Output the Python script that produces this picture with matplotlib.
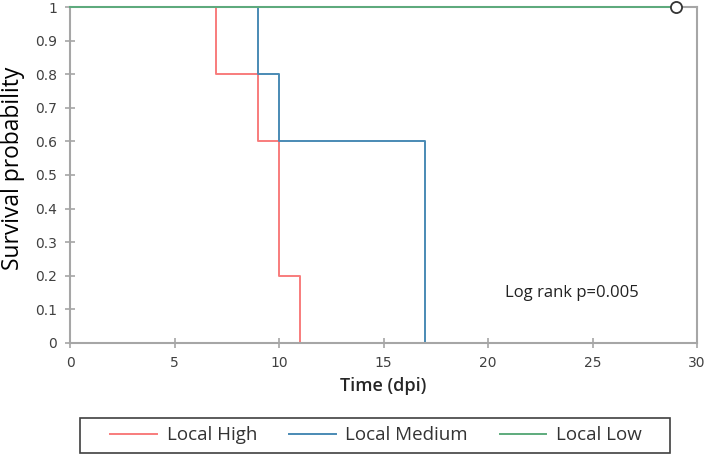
import numpy as np
import matplotlib.pyplot as plt
from matplotlib.patches import Rectangle

# Kaplan-Meier step data
high_t = [0, 7, 9, 10, 11]
high_s = [1.0, 0.8, 0.6, 0.2, 0.0]
med_t = [0, 9, 10, 17]
med_s = [1.0, 0.8, 0.6, 0.0]
low_t = [0, 29]
low_s = [1.0, 1.0]
censor_t = [29]
censor_s = [1.0]

fig = plt.figure(figsize=(7.08, 4.55), dpi=100)
ax = fig.add_axes([0.0989, 0.2462, 0.8856, 0.7384])

grey = "#a6a6a6"

ax.step(high_t + [high_t[-1]], high_s + [high_s[-1]], where="post", color="#f87c7c", lw=1.4, label="Local High", clip_on=False)
ax.step(med_t + [med_t[-1]], med_s + [med_s[-1]], where="post", color="#4a8ab4", lw=1.4, label="Local Medium", clip_on=False)
ax.step(low_t, low_s, where="post", color="#5dab7c", lw=1.4, label="Local Low", clip_on=False, zorder=3)
ax.plot(censor_t, censor_s, "o", mfc="white", mec="#333333", ms=8, mew=1.3, clip_on=False, zorder=4)

ax.set_xlim(0, 30)
ax.set_ylim(0, 1)
ax.set_xticks(np.arange(0, 31, 5))
ax.set_yticks(np.arange(0, 1.01, 0.1))
ax.set_yticklabels(["0", "0.1", "0.2", "0.3", "0.4", "0.5", "0.6", "0.7", "0.8", "0.9", "1"])

for s in ax.spines.values():
    s.set_color(grey)
    s.set_linewidth(1.5)

ax.tick_params(direction="inout", length=7, width=1.2, color=grey, labelcolor="#404040", labelsize=10)
ax.tick_params(axis="x", pad=6)
ax.tick_params(axis="y", pad=6)

ax.set_xlabel("Time (dpi)", family="Open Sans", fontsize=13, fontweight="semibold", color="#262626", labelpad=5)
ax.set_ylabel("Survival probability", family="Open Sans", fontsize=16.4, color="black")
ax.yaxis.set_label_coords(-0.072, 0.519)

ax.text(20.8, 0.15, "Log rank p=0.005", family="Open Sans", fontsize=12, color="#222222", va="center")

# legend box drawn separately so the wide side padding matches
fig.patches.append(Rectangle((0.113, 0.0044), 0.833, 0.0769, transform=fig.transFigure,
                             fill=False, edgecolor="#404040", lw=1.2))

handles, labels = ax.get_legend_handles_labels()
leg = fig.legend(handles, labels, loc="center", ncol=3, bbox_to_anchor=(0.531, 0.0429),
                 frameon=False, handlelength=2.5, columnspacing=1.7, handletextpad=0.5,
                 borderpad=0.2, borderaxespad=0,
                 prop={"family": "Open Sans", "size": 13.5})
for t in leg.get_texts():
    t.set_color("#333333")

fig.savefig("out.png", dpi=100)
